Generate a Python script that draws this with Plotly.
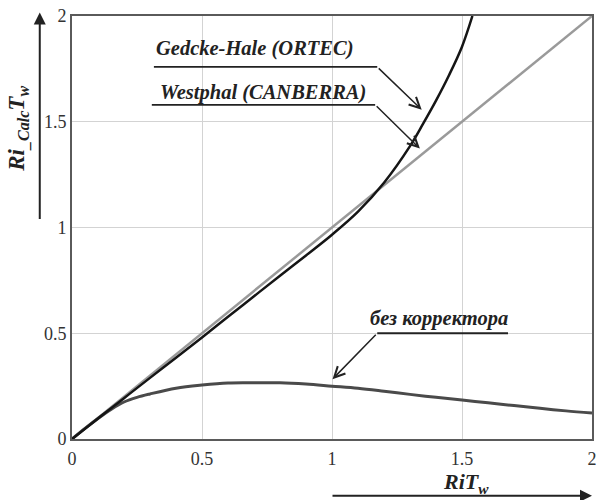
import plotly.graph_objects as go

# Data
x_westphal = [0, 0.5, 1.0, 1.5, 2.0]
y_westphal = [0, 0.5, 1.0, 1.5, 2.0]

x_gedcke = [0, 0.1, 0.2, 0.3, 0.4, 0.5, 0.6, 0.7, 0.8, 0.9, 1.0, 1.1, 1.2, 1.3, 1.35, 1.4, 1.45, 1.5, 1.54]
y_gedcke = [0, 0.097, 0.193, 0.289, 0.384, 0.48, 0.578, 0.675, 0.772, 0.868, 0.966, 1.075, 1.212, 1.385, 1.49, 1.60, 1.72, 1.855, 2.0]

x_nocorr = [0, 0.05, 0.1, 0.15, 0.2, 0.25, 0.3, 0.4, 0.5, 0.6, 0.7, 0.8, 0.9, 1.0, 1.1, 1.2, 1.3, 1.4, 1.5, 1.6, 1.7, 1.8, 1.9, 2.0]
y_nocorr = [0, 0.05, 0.097, 0.14, 0.175, 0.197, 0.213, 0.24, 0.255, 0.265, 0.266, 0.266, 0.26, 0.25, 0.24, 0.226, 0.211, 0.197, 0.184, 0.171, 0.158, 0.145, 0.133, 0.123]

tick_vals = [0, 0.5, 1, 1.5, 2]
tick_text = ["0", "0.5", "1", "1.5", "2"]

FONT = "Liberation Serif, Times New Roman, DejaVu Serif, serif"

fig = go.Figure()
fig.add_trace(go.Scatter(x=x_westphal, y=y_westphal, mode="lines",
                         line=dict(color="#9a9a9a", width=2.5), name="Westphal (CANBERRA)"))
fig.add_trace(go.Scatter(x=x_nocorr, y=y_nocorr, mode="lines", line_shape="spline",
                         line=dict(color="#4a4a4a", width=3), name="без корректора"))
fig.add_trace(go.Scatter(x=x_gedcke, y=y_gedcke, mode="lines", line_shape="spline",
                         line=dict(color="#151515", width=2.5), name="Gedcke-Hale (ORTEC)"))

axis_common = dict(range=[0, 2], tickvals=tick_vals, ticktext=tick_text,
                   showgrid=True, gridcolor="#d3d3d3", gridwidth=1,
                   showline=True, linecolor="#5a5a5a", linewidth=2, mirror=True,
                   zeroline=False, ticks="",
                   tickfont=dict(family=FONT, size=18, color="#333333"))

fig.update_layout(
    width=603, height=500,
    margin=dict(l=72, r=6, t=15, b=61),
    paper_bgcolor="white", plot_bgcolor="white",
    showlegend=False,
    xaxis=dict(axis_common, ticklabelstandoff=2),
    yaxis=axis_common,
)

label_font = dict(family=FONT, size=20.5, color="#222222")

# Label texts
labels = [
    ("<b><i>Gedcke-Hale (ORTEC)</i></b>", 0.704, 1.844),
    ("<b><i>Westphal (CANBERRA)</i></b>", 0.733, 1.637),
    ("<b><i>без корректора</i></b>", 1.412, 0.571),
]
for t, xx, yy in labels:
    fig.add_annotation(x=xx, y=yy, xref="x", yref="y", text=t, showarrow=False,
                       font=label_font, xanchor="center", yanchor="middle")

# Leader lines (underline + arrow)
leaders = [
    (0.315, 1.174, 1.759, 1.345, 1.557),
    (0.307, 1.166, 1.580, 1.338, 1.373),
    (1.677, 1.174, 0.500, 1.002, 0.283),
]
for xa, xb, yl, xt, yt in leaders:
    fig.add_shape(type="line", x0=xa, x1=xb, y0=yl, y1=yl, xref="x", yref="y",
                  line=dict(color="#222222", width=1.8))
    fig.add_annotation(x=xt, y=yt, ax=xb, ay=yl, xref="x", yref="y", axref="x", ayref="y",
                       text="", showarrow=True, arrowhead=5, arrowsize=1.4,
                       arrowwidth=1.5, arrowcolor="#222222", standoff=0)

# Axis titles with arrows
fig.add_annotation(xref="paper", yref="paper", x=-0.104, y=0.733,
                   xanchor="center", yanchor="middle",
                   text="<b><i>Ri<sub>_Calc</sub>T<sub>w</sub></i></b>",
                   textangle=-90, showarrow=False,
                   font=dict(family=FONT, size=23, color="#222222"))
fig.add_annotation(xref="paper", yref="paper", x=-0.062, y=1.008, ax=0, ay=208,
                   text="", showarrow=True, arrowhead=2, arrowsize=1.2, arrowwidth=2,
                   arrowcolor="#222222", standoff=0)

fig.add_annotation(xref="paper", yref="paper", x=0.7585, y=-0.104,
                   xanchor="center", yanchor="middle",
                   text="<b><i>RiT<sub>w</sub></i></b>", showarrow=False,
                   font=dict(family=FONT, size=22, color="#222222"))
fig.add_annotation(xref="paper", yref="paper", x=1.0, y=-0.134, ax=-261, ay=0,
                   text="", showarrow=True, arrowhead=2, arrowsize=1.2, arrowwidth=2,
                   arrowcolor="#222222", standoff=0)

fig.write_html("out.html", config={"displayModeBar": False},
               post_script="document.body.style.margin='0';document.body.style.overflow='hidden';")
